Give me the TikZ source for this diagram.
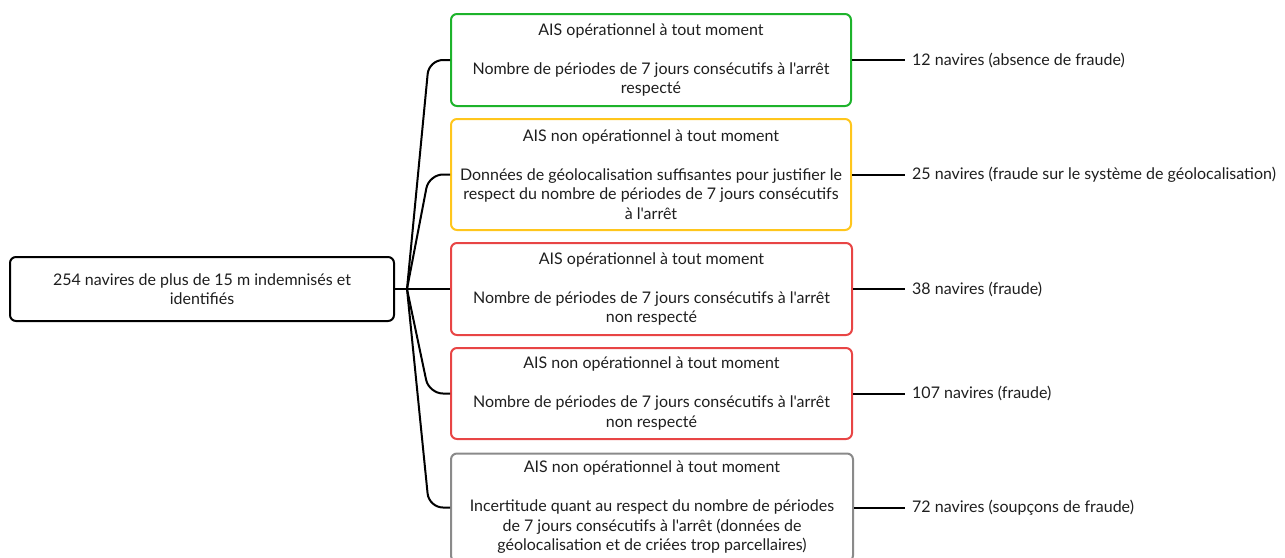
\documentclass[tikz,border=0pt]{standalone}
\usepackage{fontspec}
\setmainfont{Lato}[Ligatures=TeXOff]
\definecolor{cgreen}{HTML}{1DB32B}
\definecolor{cyellow}{HTML}{FFC61C}
\definecolor{cred}{HTML}{E84545}
\definecolor{cgray}{HTML}{8A8A8A}
\definecolor{ctext}{HTML}{1E1E1E}
\begin{document}
\begin{tikzpicture}[x=1pt,y=-1pt,
  every node/.style={text=ctext,font=\fontsize{16}{19.5}\selectfont},
  box/.style={draw,line width=2pt,rounded corners=6pt,align=center,minimum width=#1,inner sep=0pt},
  lab/.style={anchor=west,inner xsep=7pt,inner ysep=0pt},
  conn/.style={line width=2pt,draw=black},
  ]
\useasboundingbox (0,0) rectangle (1285,557);
\clip (0,0) rectangle (1285,557);
\node[box=384pt,minimum height=64pt] (root) at (202,289) {254 navires de plus de 15 m indemnisés et\\identifiés};
\node[box=400pt,minimum height=92pt,draw=cgreen] (b1) at (651,60) {AIS opérationnel à tout moment\\[19.5pt]Nombre de périodes de 7 jours consécutifs à l'arrêt\\respecté};
\node[box=400pt,minimum height=111pt,draw=cyellow] (b2) at (651,174.5) {AIS non opérationnel à tout moment\\[19.5pt]Données de géolocalisation suffisantes pour justifier le\\respect du nombre de périodes de 7 jours consécutifs\\à l'arrêt};
\node[box=401pt,minimum height=92pt,draw=cred] (b3) at (651.5,289) {AIS opérationnel à tout moment\\[19.5pt]Nombre de périodes de 7 jours consécutifs à l'arrêt\\non respecté};
\node[box=401pt,minimum height=91pt,draw=cred] (b4) at (651.5,393.5) {AIS non opérationnel à tout moment\\[19.5pt]Nombre de périodes de 7 jours consécutifs à l'arrêt\\non respecté};
\node[box=402pt,minimum height=108pt,draw=cgray] (b5) at (652,507.5) {AIS non opérationnel à tout moment\\[19.5pt]Incertitude quant au respect du nombre de périodes\\de 7 jours consécutifs à l'arrêt (données de\\géolocalisation et de criées trop parcellaires)};
\coordinate (j) at (407,289);
\draw[conn] (root.east) -- (j);
\draw[conn,rounded corners=14pt] (j) -- (429,60) -- (b1.west);
\draw[conn,rounded corners=14pt] (j) -- (429,174.5) -- (b2.west);
\draw[conn] (j) -- (b3.west);
\draw[conn,rounded corners=14pt] (j) -- (429,393.5) -- (b4.west);
\draw[conn,rounded corners=14pt] (j) -- (429,507.5) -- (b5.west);
\node[lab] (l1) at (905,60) {12 navires (absence de fraude)};
\node[lab] (l2) at (905,174.5) {25 navires (fraude sur le système de géolocalisation)};
\node[lab] (l3) at (905,289) {38 navires (fraude)};
\node[lab] (l4) at (905,393.5) {107 navires (fraude)};
\node[lab] (l5) at (905,507.5) {72 navires (soupçons de fraude)};
\foreach \i in {1,...,5}{\draw[conn] (b\i.east) -- (l\i.west);}
\end{tikzpicture}
\end{document}
